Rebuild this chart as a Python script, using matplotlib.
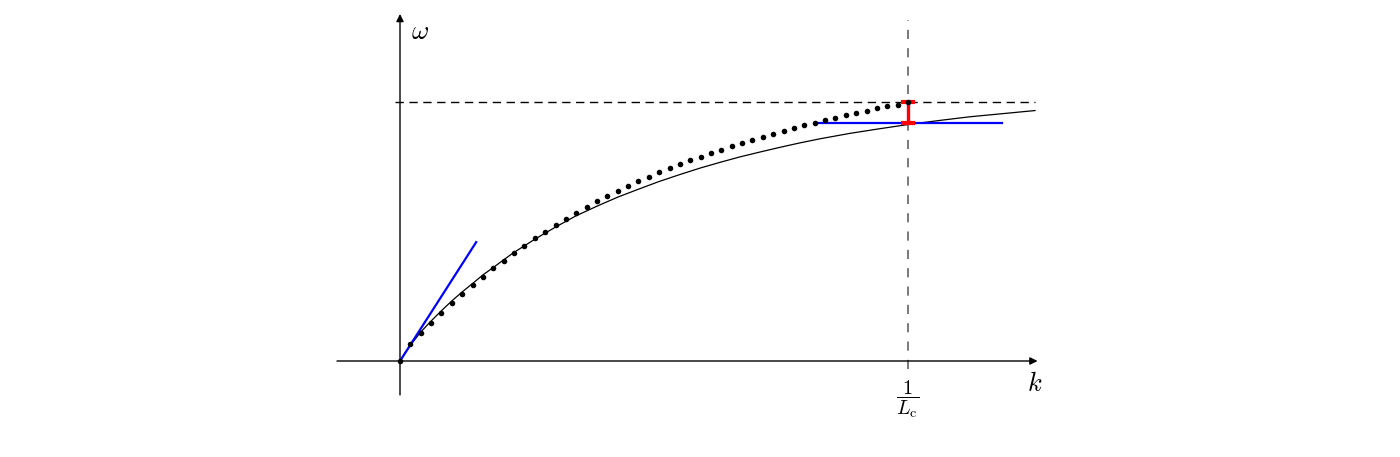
import numpy as np
import matplotlib.pyplot as plt

plt.rcParams['mathtext.fontset'] = 'cm'

# Dotted series: sampled points, k in units of 1/L_c, omega normalised to its maximum
omega_dots = [0.000, 0.066, 0.108, 0.147, 0.185, 0.224, 0.259, 0.293, 0.324, 0.359,
              0.386, 0.417, 0.444, 0.475, 0.498, 0.525, 0.548, 0.571, 0.595, 0.618,
              0.637, 0.656, 0.676, 0.695, 0.710, 0.730, 0.745, 0.761, 0.776, 0.788,
              0.803, 0.815, 0.830, 0.842, 0.853, 0.865, 0.876, 0.888, 0.900, 0.911,
              0.919, 0.931, 0.938, 0.950, 0.958, 0.965, 0.977, 0.985, 0.988, 1.000]
k_dots = np.arange(len(omega_dots)) / (len(omega_dots) - 1)

# Solid curve (k in units of 1/L_c, omega normalised)
k_curve = [0.000, 0.020, 0.041, 0.061, 0.081, 0.102, 0.122, 0.144, 0.163, 0.185,
           0.205, 0.224, 0.246, 0.266, 0.307, 0.346, 0.388, 0.429, 0.469, 0.510,
           0.551, 0.591, 0.630, 0.669, 0.709, 0.748, 0.787, 0.827, 0.886, 0.945,
           1.000, 1.063, 1.122, 1.181, 1.250]
omega_curve = [0.000, 0.060, 0.112, 0.154, 0.193, 0.232, 0.266, 0.301, 0.332, 0.363,
               0.392, 0.419, 0.446, 0.471, 0.518, 0.560, 0.598, 0.633, 0.663, 0.693,
               0.720, 0.745, 0.767, 0.788, 0.807, 0.825, 0.842, 0.858, 0.879, 0.897,
               0.913, 0.929, 0.943, 0.954, 0.967]

# Tangent line at origin and horizontal line near k = 1/L_c
k_tangent = [0.0, 0.150]
omega_tangent = [0.0, 0.459]
k_flat = [0.817, 1.185]
omega_flat = [0.919, 0.919]

# Gap marker at k = 1/L_c
k_gap = 1.0
omega_gap = [0.919, 1.000]

fig = plt.figure(figsize=(14, 4.57), dpi=100)
ax = fig.add_axes([0, 0, 1, 1])
ax.set_xlim(-400 / 508, 1000 / 508)
ax.set_ylim((361 - 457) / 259, 361 / 259)
ax.axis('off')

# Reference dashed lines
ax.plot([1.0, 1.0], [-0.03, 1.317], color='#555555', lw=1.1, dashes=(6, 6), zorder=1)
ax.plot([-0.01, 1.25], [1.0, 1.0], color='black', lw=1.0, dashes=(6, 4), zorder=1)

# Axes with arrows
ax.annotate('', xy=(1.255, 0), xytext=(-0.124, 0),
            arrowprops=dict(arrowstyle='-|>', color='black', lw=1.0,
                            mutation_scale=11, shrinkA=0, shrinkB=0), zorder=2)
ax.annotate('', xy=(0, 1.34), xytext=(0, -0.131),
            arrowprops=dict(arrowstyle='-|>', color='black', lw=1.0,
                            mutation_scale=11, shrinkA=0, shrinkB=0), zorder=2)

# Curves
ax.plot(k_curve, omega_curve, color='black', lw=0.9, zorder=3)
ax.plot(k_tangent, omega_tangent, color='#0000ff', lw=1.6, zorder=4)
ax.plot(k_flat, omega_flat, color='#0000ff', lw=1.6, zorder=4)

mid = (omega_gap[0] + omega_gap[1]) / 2
half = (omega_gap[1] - omega_gap[0]) / 2
ax.errorbar([k_gap], [mid], yerr=[half], fmt='none', ecolor='#ff0000',
            elinewidth=2.4, capsize=5, capthick=3, zorder=5)

ax.plot(k_dots, omega_dots, linestyle='none', marker='o', color='black',
        markersize=4.0, markeredgewidth=0, zorder=6)

# Labels
ax.text(0.022, 1.27, r'$\omega$', fontsize=19, ha='left', va='center')
ax.text(1.25, -0.089, r'$k$', fontsize=19, ha='center', va='center')
ax.text(1.0, -0.148, r'$\dfrac{1}{L_{\mathrm{c}}}$', fontsize=14.5, ha='center', va='center')

fig.savefig('out.png', dpi=100)
